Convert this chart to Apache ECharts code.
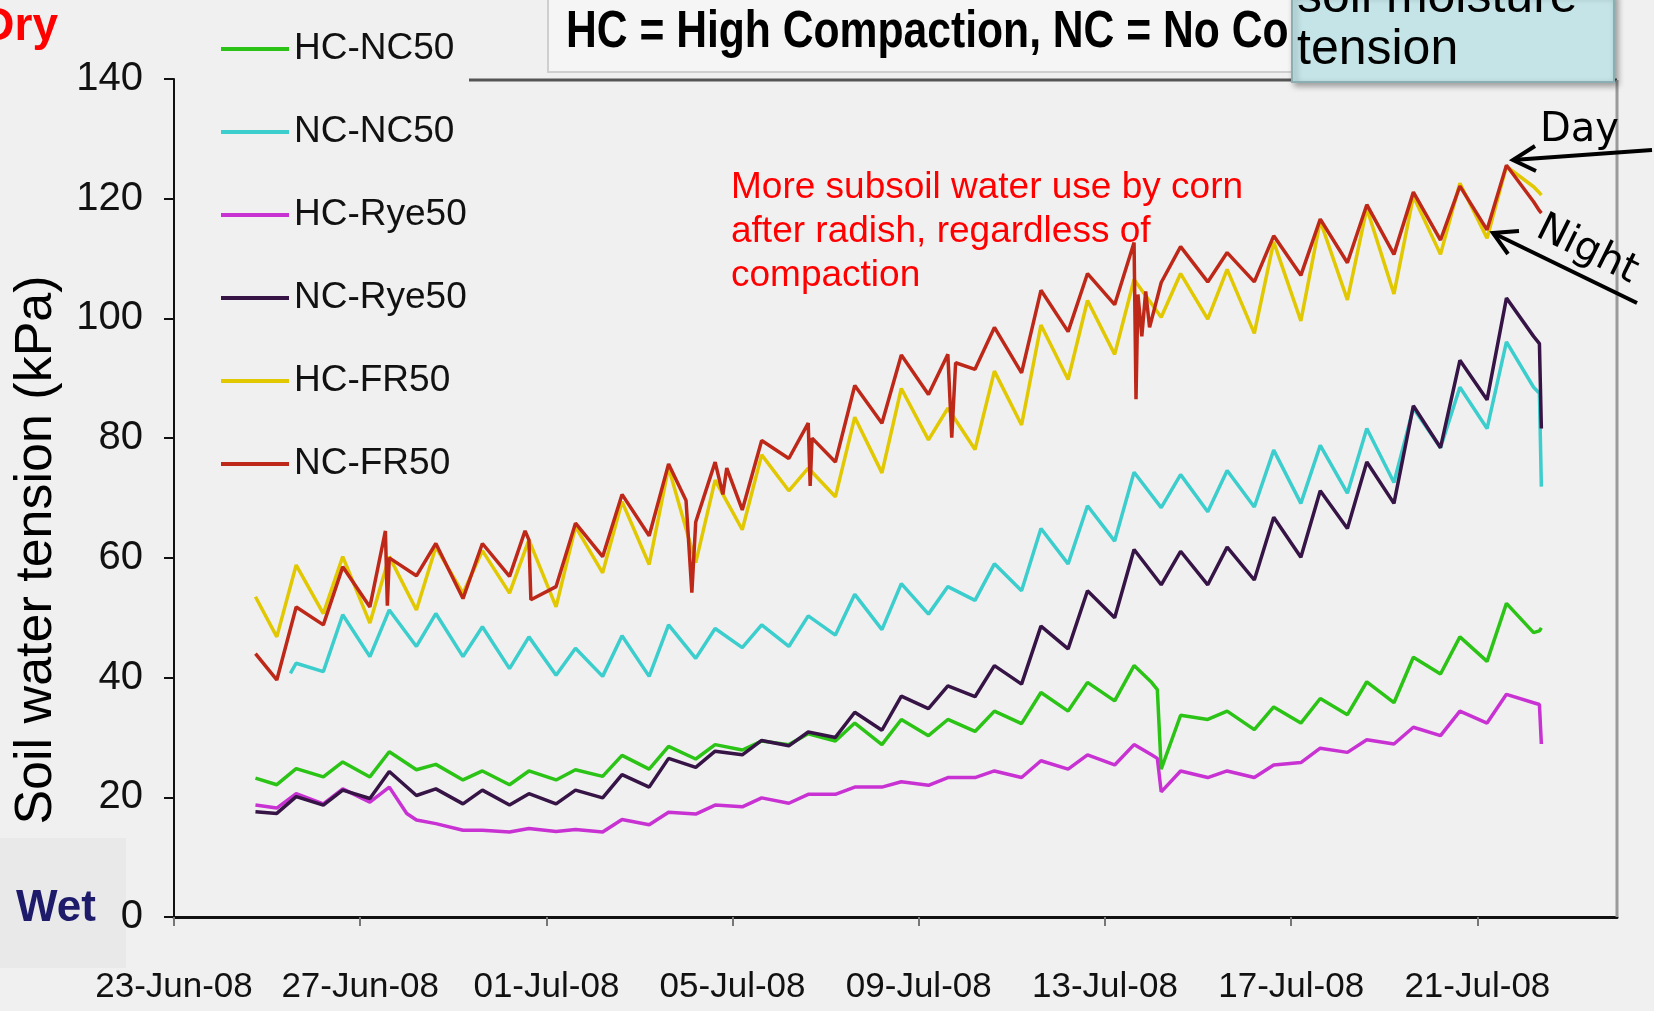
<!DOCTYPE html>
<html><head><meta charset="utf-8">
<script src="https://cdn.jsdelivr.net/npm/echarts@6/dist/echarts.min.js"></script>
<style>html,body{margin:0;padding:0;background:#f0f0f0}#c{width:1654px;height:1011px}</style>
</head><body><div id="c"></div><script>
// ---- data ----
const times = ['06-24 18',
 '06-25 05','06-25 15','06-26 05','06-26 15','06-27 05','06-27 15','06-28 05','06-28 15',
 '06-29 05','06-29 15','06-30 05','06-30 15','07-01 05','07-01 15','07-02 05','07-02 15',
 '07-03 05','07-03 15','07-04 05','07-04 15','07-05 05','07-05 15','07-06 05','07-06 15',
 '07-07 05','07-07 15','07-08 05','07-08 15','07-09 05','07-09 15','07-10 05','07-10 15',
 '07-11 05','07-11 15','07-12 05','07-12 15','07-13 05','07-13 15','07-14 05','07-14 15',
 '07-15 05','07-15 15','07-16 05','07-16 15','07-17 05','07-17 15','07-18 05','07-18 15',
 '07-19 05','07-19 15','07-20 05','07-20 15','07-21 05','07-21 15',
 '07-22 05','07-22 08','07-22 09'];
const tickLabels = ['23-Jun-08','27-Jun-08','01-Jul-08','05-Jul-08','09-Jul-08','13-Jul-08','17-Jul-08','21-Jul-08'];
const seriesNames = ['HC-NC50','NC-NC50','HC-Rye50','NC-Rye50','HC-FR50','NC-FR50'];

const hcNC50 = [23.2,
 22.1,24.8, 23.4,25.9, 23.4,27.6, 24.6,25.5, 22.9,24.4, 22.1,24.4, 22.9,24.6, 23.5,27.0,
 24.7,28.5, 26.4,28.8, 27.9,29.4, 28.8,30.6, 29.4,32.4, 28.8,33.0, 30.3,33.0, 31.0,34.4,
 32.3,37.5, 34.4,39.2, 36.1,42.0, 24.7,33.7, 33.0,34.4, 31.3,35.1, 32.4,36.5, 33.8,39.3,
 35.8,43.4, 40.6,46.8, 42.7,52.4,
 47.5,47.8,48.3];
const ncNC50 = [null,
 null,42.4, 41.0,50.5, 43.5,51.3, 45.2,50.7, 43.5,48.5, 41.5,46.8, 40.4,44.9, 40.2,47.0,
 40.2,48.8, 43.2,48.2, 45.0,48.8, 45.2,50.3, 47.1,53.9, 48.0,55.7, 50.6,55.2, 52.9,59.0,
 54.5,64.9, 59.0,68.7, 62.8,74.3, 68.4,73.9, 67.7,74.6, 68.5,78.0, 69.1,78.8, 70.8,81.6,
 72.6,85.0, 78.4,88.5, 81.6,96.1,
 88.5,87.5,71.9];
const hcRye50 = [18.7,
 18.2,20.6, 18.9,21.4, 19.2,21.7, 16.2,15.6, 14.5,14.5, 14.2,14.8, 14.3,14.6, 14.2,16.3,
 15.4,17.5, 17.2,18.7, 18.4,19.9, 19.0,20.5, 20.5,21.7, 21.7,22.6, 22.0,23.3, 23.3,24.4,
 23.3,26.1, 24.7,27.1, 25.4,28.8, 20.9,24.4, 23.3,24.4, 23.3,25.4, 25.8,28.2, 27.5,29.6,
 28.9,31.7, 30.3,34.4, 32.4,37.2,
 35.8,35.5,28.9];
const ncRye50 = [17.6,
 17.3,20.1, 18.7,21.2, 19.8,24.3, 20.3,21.4, 18.9,21.2, 18.7,20.6, 18.9,21.2, 19.9,23.8,
 21.7,26.5, 25.0,27.7, 27.1,29.5, 28.6,30.9, 30.0,34.2, 31.2,36.9, 34.8,38.6, 36.8,42.0,
 38.9,48.6, 44.8,54.5, 50.0,61.4, 55.5,61.1, 55.5,61.8, 56.3,66.8, 60.1,71.2, 64.9,76.0,
 69.1,85.4, 78.4,93.0, 86.4,103.4,
 97.0,95.8,81.6];
const hcFR50 = [53.5,
 46.8,58.8, 50.7,60.2, 49.1,60.2, 51.3,61.8, 54.1,61.2, 54.1,63.0, 51.8,65.2, 57.5,69.4,
 58.9,75.1, 59.2,73.0, 64.7,77.2, 71.2,75.0, 70.2,83.5, 74.2,88.3, 79.7,85.0, 78.1,91.2,
 82.2,98.9, 89.8,103.0, 94.0,106.5, 100.2,107.5, 99.9,108.2, 97.5,112.8, 99.6,116.3, 103.1,118.4,
 104.1,120.4, 110.7,122.6, 113.4,125.4,
 122.0,121.0,120.6];
const ncFR50 = [44.0,
 39.6,51.8, 48.8,58.5, 51.8,60.0, 57.0,62.4, 53.2,62.4, 56.9,63.0, 55.2,65.8, 60.2,70.6,
 63.7,75.7, 66.0,76.0, 68.0,79.6, 76.6,82.5, 76.0,88.8, 82.5,93.9, 87.3,94.0, 91.5,98.5,
 90.9,104.7, 97.8,107.5, 102.3,112.7, 106.0,112.0, 106.1,111.0, 106.1,113.8, 107.2,116.6, 109.3,119.0,
 110.7,121.1, 113.1,122.1, 114.8,125.6,
 119.5,118.0,117.6];

// extra readings (short spikes / drops) at their own times
const greenExtra = [['07-14 00',39.2],['07-14 03',38.0]];
const cyanExtra = [['06-25 12',40.7]];
const magentaExtra = [['06-28 00',17.3],['07-14 00',27.1],['07-14 03',26.5]];
const redExtra = [['06-27 13',64.5],['06-27 14',52.0],['06-30 13',64.5],['06-30 16',53.0],
 ['07-04 00',69.6],['07-04 03',54.2],['07-04 19',70.6],['07-04 21',75.0],['07-06 16',72.0],['07-06 17',80.0],
 ['07-09 17',80.1],['07-09 19',92.6],['07-13 16',86.5],['07-13 17',104.0],['07-13 19',97.0],['07-13 21',104.5],['07-13 23',98.5]];

const colors = ['#2bc416','#3ccdcd','#c832d2','#371446','#e1c800','#be2819'];

// ---- build ----
const T0 = Date.UTC(2008,5,23);
function dayOf(s){ const p=s.split(' '); const md=p[0].split('-').map(Number); return (Date.UTC(2008,md[0]-1,md[1],+p[1])-T0)/864e5; }
function build(vals, extra){
  const pts=[]; vals.forEach((v,i)=>{ if(v!=null) pts.push([dayOf(times[i]),v]); });
  (extra||[]).forEach(e=>pts.push([dayOf(e[0]),e[1]]));
  pts.sort((a,b)=>a[0]-b[0]); return pts;
}
const allVals=[hcNC50,ncNC50,hcRye50,ncRye50,hcFR50,ncFR50];
const allExtra=[greenExtra,cyanExtra,magentaExtra,null,null,redExtra];

const SANS="'Liberation Sans',Arial,Helvetica,sans-serif";
const tickVals=tickLabels.map((_,i)=>i*4);

function txt(o){ // helper for graphic text
  const st=Object.assign({},o.style);
  if(st.align){st.textAlign=st.align;} if(st.verticalAlign){st.textVerticalAlign=st.verticalAlign;}
  return Object.assign({type:'text',z:o.z||20},o,{style:st});
}

const chart=echarts.init(document.getElementById('c'),null,{renderer:'canvas'});
chart.setOption({
  backgroundColor:'#f0f0f0',
  animation:false,
  grid:{left:174,right:37,top:79,bottom:94,outerBoundsMode:'none'},
  legend:{orient:'vertical',left:216,top:20,itemWidth:68,itemHeight:4,itemGap:35,icon:'rect',
    data:seriesNames,textStyle:{fontFamily:SANS,fontSize:37,lineHeight:48,color:'#111'}},
  xAxis:{type:'value',min:0,max:31,interval:4,
    axisLine:{lineStyle:{color:'#111',width:3}},
    axisTick:{show:true,length:9,customValues:tickVals,lineStyle:{color:'#777',width:2}},
    axisLabel:{customValues:tickVals,margin:50,fontFamily:SANS,fontSize:35,lineHeight:40,color:'#111',
      formatter:v=>tickLabels[Math.round(v/4)]||''},
    splitLine:{show:false}},
  yAxis:{type:'value',min:0,max:140,interval:20,
    axisLine:{show:true,lineStyle:{color:'#111',width:2}},
    axisTick:{show:true,length:10,lineStyle:{color:'#111',width:2}},
    axisLabel:{margin:31,fontFamily:SANS,fontSize:40,color:'#111'},
    splitLine:{show:false}},
  series:seriesNames.map((n,i)=>({name:n,type:'line',data:build(allVals[i],allExtra[i]),
    showSymbol:false,symbol:'none',lineStyle:{width:3.5,color:colors[i]},itemStyle:{color:colors[i]},z:2+i})),
  graphic:[
    {type:'line',shape:{x1:469,y1:80,x2:1617,y2:80},style:{stroke:'#555',lineWidth:3},z:1},
    {type:'line',shape:{x1:1617,y1:80,x2:1617,y2:917},style:{stroke:'#9a9a9a',lineWidth:3},z:1},
    {type:'rect',shape:{x:0,y:838,width:126,height:130},style:{fill:'#e9e9e9'},z:0},
    {type:'rect',shape:{x:548,y:-5,width:800,height:77},style:{fill:'#f5f5f5',stroke:'#cfcfcf',lineWidth:2},z:10},
    txt({x:566,y:33,z:11,scaleX:0.82,style:{text:'HC = High Compaction, NC = No Compaction',fontFamily:SANS,fontWeight:'bold',fontSize:52,fill:'#000',align:'left',verticalAlign:'middle'}}),
    {type:'rect',shape:{x:1292,y:-6,width:322,height:88},style:{fill:'#c4e4e7',stroke:'#8aaeb2',lineWidth:2,shadowBlur:6,shadowColor:'rgba(0,0,0,0.35)',shadowOffsetX:3,shadowOffsetY:3},z:12},
    txt({x:1297,y:-2,z:13,style:{text:'soil moisture',fontFamily:SANS,fontSize:50,fill:'#000',align:'left',verticalAlign:'middle'}}),
    txt({x:1297,y:50,z:13,style:{text:'tension',fontFamily:SANS,fontSize:50,fill:'#000',align:'left',verticalAlign:'middle'}}),
    txt({x:731,y:166,z:15,style:{text:'More subsoil water use by corn\nafter radish, regardless of\ncompaction',fontFamily:SANS,fontSize:37,lineHeight:44,fill:'#ff0000',align:'left',verticalAlign:'top'}}),
    txt({x:58,y:27,style:{text:'Dry',fontFamily:SANS,fontWeight:'bold',fontSize:46,fill:'#ff0000',align:'right',verticalAlign:'middle'}}),
    txt({x:16,y:909,style:{text:'Wet',fontFamily:SANS,fontWeight:'bold',fontSize:44,fill:'#1e1b6b',align:'left',verticalAlign:'middle'}}),
    txt({x:37,y:550,rotation:Math.PI/2,style:{text:'Soil water tension (kPa)',fontFamily:SANS,fontSize:52,fill:'#000',align:'center',verticalAlign:'middle'}}),
    txt({x:1540,y:131,z:30,style:{text:'Day',fontFamily:"'DejaVu Sans',sans-serif",fontSize:40,fill:'#000',align:'left',verticalAlign:'middle'}}),
    txt({x:1587,y:250,z:30,rotation:-0.46,style:{text:'Night',fontFamily:"'DejaVu Sans',sans-serif",fontSize:40,fill:'#000',align:'center',verticalAlign:'middle'}}),
    {type:'polyline',z:30,shape:{points:[[1652,150],[1513,160]]},style:{stroke:'#000',lineWidth:4,fill:null}},
    {type:'polyline',z:30,shape:{points:[[1535,146],[1513,160],[1536,171]]},style:{stroke:'#000',lineWidth:4,fill:null}},
    {type:'polyline',z:30,shape:{points:[[1637,303],[1493,233]]},style:{stroke:'#000',lineWidth:4,fill:null}},
    {type:'polyline',z:30,shape:{points:[[1519,231],[1493,233],[1508,254]]},style:{stroke:'#000',lineWidth:4,fill:null}}
  ]
});
</script></body></html>
